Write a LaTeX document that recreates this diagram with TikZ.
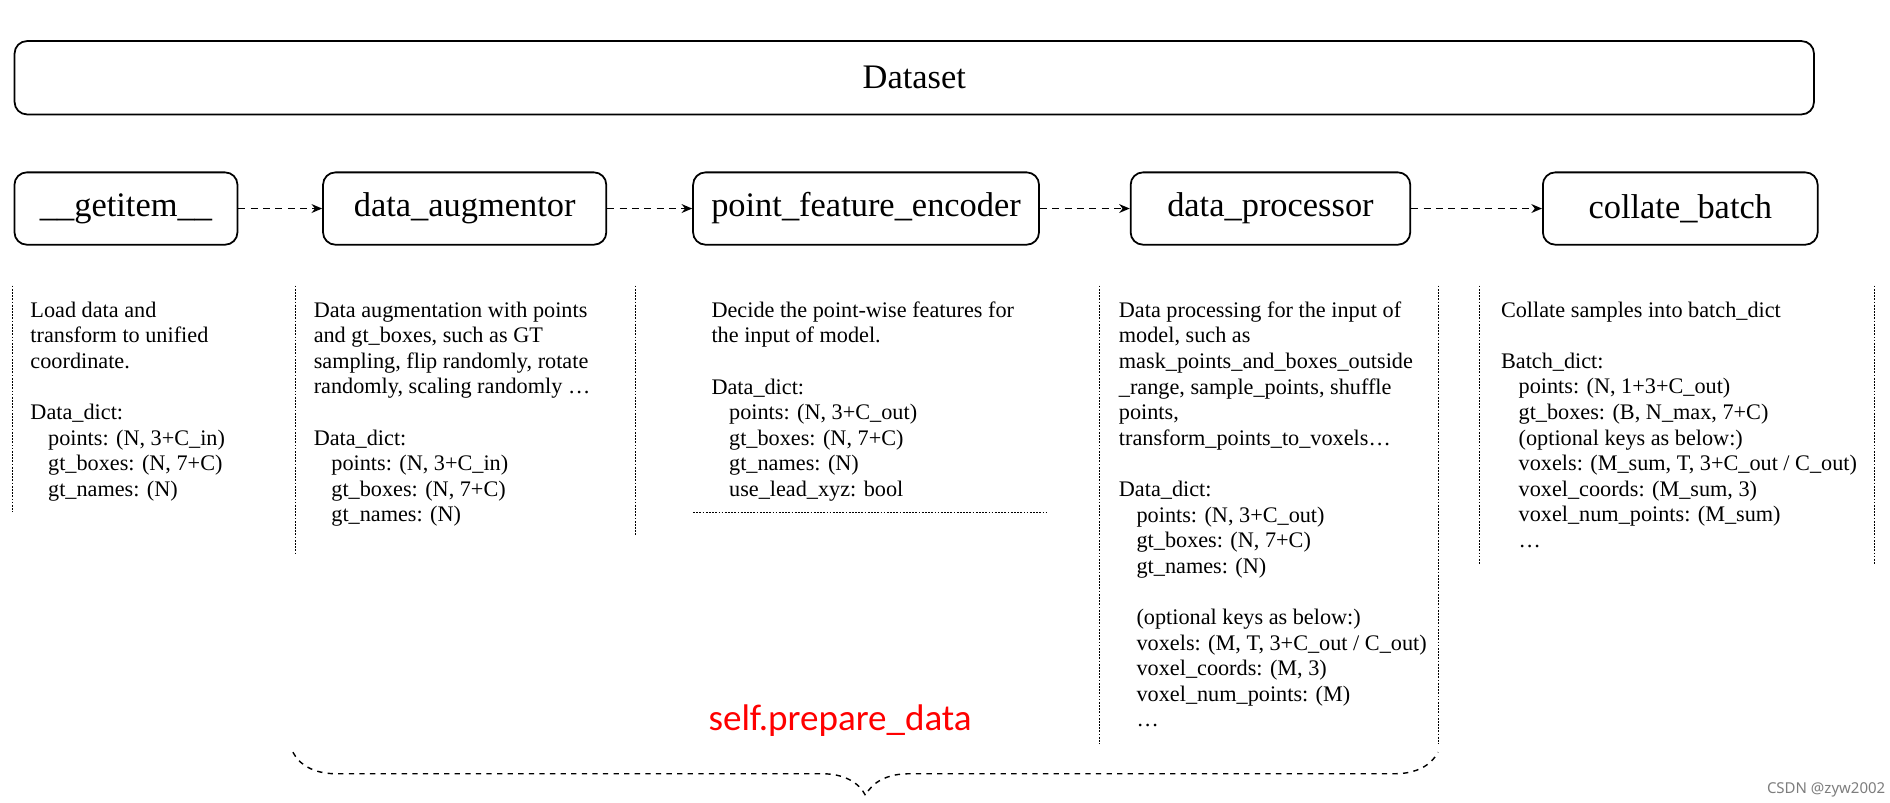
\documentclass[tikz,border=0pt]{standalone}
\usepackage{fontspec}
\setmainfont{Liberation Serif}
\newfontfamily\labelsans{Carlito}
\newfontfamily\marksans{Noto Sans}
\usepackage{tikz}
\usetikzlibrary{arrows.meta,decorations.pathreplacing}
\tikzset{>={Stealth[length=6pt,width=5pt]}}
\definecolor{markgray}{RGB}{125,125,125}
\newcommand{\keyind}{\hspace*{10pt}}

\begin{document}
\begin{tikzpicture}[x=0.024cm, y=-0.024cm,
  stage/.style={draw, line width=1pt, rounded corners=7pt, minimum height=1.44cm,
    inner sep=0pt, font=\fontsize{19.5}{22}\selectfont},
  flow/.style={->, dash pattern=on 4pt off 3pt, line width=0.9pt},
  sep/.style={dash pattern=on 1pt off 0.8pt, line width=0.5pt},
  note/.style={anchor=north west, align=left, inner sep=0pt,
    font=\fontsize{12.6}{14.5}\selectfont}]

\useasboundingbox (0,0) rectangle (1568,666);

\node[stage, minimum width=35.83cm, minimum height=1.46cm] (dataset) at (758.5,64.5) {Dataset};

\node[stage, minimum width=4.44cm] (getitem) at (104.5,173) {\_\_getitem\_\_};
\node[stage, minimum width=5.64cm] (augment) at (385.5,173) {data\_augmentor};
\node[stage, minimum width=6.888cm] (encoder) at (718.5,173) {point\_feature\_encoder};
\node[stage, minimum width=5.568cm] (process) at (1054,173) {data\_processor};
\node[stage, minimum width=5.472cm] (collate) at (1394,173) {collate\_batch};

\draw[flow] (getitem) -- (augment);
\draw[flow] (augment) -- (encoder);
\draw[flow] (encoder) -- (process);
\draw[flow] (process) -- (collate);

\draw[sep] (10,237) -- (10,425);
\draw[sep] (245,237) -- (245,460);
\draw[sep] (527,237) -- (527,445);
\draw[sep] (575,425) -- (868,425);
\draw[sep] (912,237) -- (912,617);
\draw[sep] (1193,237) -- (1193,617);
\draw[sep] (1227,237) -- (1227,468);
\draw[sep] (1555,237) -- (1555,468);

\node[note] (loadtext) at (25,250) {Load data and\\transform to unified\\coordinate.\\~\\
  Data\_dict:\\\keyind points: (N, 3+C\_in)\\\keyind gt\_boxes: (N, 7+C)\\\keyind gt\_names: (N)};

\node[note] (augtext) at (260,250) {Data augmentation with points\\and gt\_boxes, such as GT\\
  sampling, flip randomly, rotate\\randomly, scaling randomly \dots\\~\\
  Data\_dict:\\\keyind points: (N, 3+C\_in)\\\keyind gt\_boxes: (N, 7+C)\\\keyind gt\_names: (N)};

\node[note] (enctext) at (590,250) {Decide the point-wise features for\\the input of model.\\~\\
  Data\_dict:\\\keyind points: (N, 3+C\_out)\\\keyind gt\_boxes: (N, 7+C)\\\keyind gt\_names: (N)\\
  \keyind use\_lead\_xyz: bool};

\node[note] (proctext) at (928,250) {Data processing for the input of\\model, such as\\
  mask\_points\_and\_boxes\_outside\\\_range, sample\_points, shuffle\\points,\\
  transform\_points\_to\_voxels\dots\\~\\
  Data\_dict:\\\keyind points: (N, 3+C\_out)\\\keyind gt\_boxes: (N, 7+C)\\\keyind gt\_names: (N)\\~\\
  \keyind (optional keys as below:)\\\keyind voxels: (M, T, 3+C\_out / C\_out)\\
  \keyind voxel\_coords: (M, 3)\\\keyind voxel\_num\_points: (M)\\\keyind \dots};

\node[note] (coltext) at (1245,250) {Collate samples into batch\_dict\\~\\
  Batch\_dict:\\\keyind points: (N, 1+3+C\_out)\\\keyind gt\_boxes: (B, N\_max, 7+C)\\
  \keyind (optional keys as below:)\\\keyind voxels: (M\_sum, T, 3+C\_out / C\_out)\\
  \keyind voxel\_coords: (M\_sum, 3)\\\keyind voxel\_num\_points: (M\_sum)\\\keyind \dots};

\coordinate (bracel) at (243,624);
\coordinate (bracer) at (1193,624);
\draw[dashed, line width=0.8pt, decorate, decoration={brace, mirror, amplitude=0.86cm}] (bracel) -- (bracer);

\node[text=red, font=\labelsans\fontsize{21}{24}\selectfont] (prepare) at (697,598) {self.prepare\_data};
\node[text=markgray, font=\marksans\fontsize{8.5}{10}\selectfont] (mark) at (1515,655) {CSDN @zyw2002};

\end{tikzpicture}
\end{document}
